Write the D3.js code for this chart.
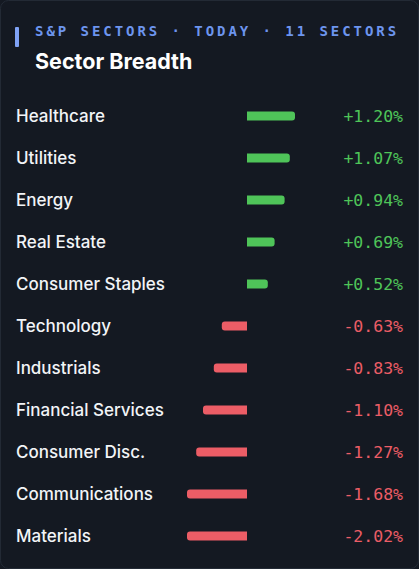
<!DOCTYPE html><html><head><meta charset="utf-8">
<script src="https://cdn.jsdelivr.net/npm/d3@7"></script>
<style>body{margin:0;background:#141922;}svg{display:block}</style></head><body>
<script>
const sectors=["Healthcare","Utilities","Energy","Real Estate","Consumer Staples","Technology","Industrials","Financial Services","Consumer Disc.","Communications","Materials"];
const changes=[1.20,1.07,0.94,0.69,0.52,-0.63,-0.83,-1.10,-1.27,-1.68,-2.02];
const W=419,H=569;
const svg=d3.select("body").append("svg").attr("width",W).attr("height",H);
svg.append("rect").attr("x",0.5).attr("y",0.5).attr("width",W-1).attr("height",H-1).attr("rx",8).attr("fill","#141922").attr("stroke","#232a35");
svg.append("rect").attr("x",15).attr("y",27).attr("width",4).attr("height",20).attr("rx",1).attr("fill","#7fa2f5");
svg.append("text").attr("x",35).attr("y",36).attr("font-family","DejaVu Sans Mono").attr("font-size",14).attr("font-weight","bold").attr("letter-spacing",2.95).attr("fill","#6d95ee").text("S&P SECTORS · TODAY · 11 SECTORS");
svg.append("text").attr("x",35).attr("y",69).attr("font-family","Inter").attr("font-size",21.5).attr("font-weight",700).attr("fill","#fff").text("Sector Breadth");
const y=d3.scaleBand().domain(sectors).range([95,557]).padding(0);
const x=d3.scaleLinear().domain([-1.5,1.5]).range([187,307]).clamp(true);
const g=svg.selectAll(".row").data(sectors).join("g").attr("transform",d=>`translate(0,${y(d)+y.bandwidth()/2})`);
g.append("text").attr("x",16).attr("dy","0.35em").attr("font-family","Inter").attr("font-size",17).attr("font-weight",500).attr("fill","#f2f4f7").text(d=>d);
const r=3,h=9;
g.append("path").attr("fill",(d,i)=>changes[i]>=0?"#4fc459":"#ec5d66").attr("d",(d,i)=>{
  const x0=x(0),x1=x(changes[i]);
  if(x1>=x0){return `M${x0},${-h/2}H${x1-r}Q${x1},${-h/2} ${x1},${-h/2+r}V${h/2-r}Q${x1},${h/2} ${x1-r},${h/2}H${x0}Z`;}
  return `M${x0},${-h/2}H${x1+r}Q${x1},${-h/2} ${x1},${-h/2+r}V${h/2-r}Q${x1},${h/2} ${x1+r},${h/2}H${x0}Z`;});
g.append("text").attr("x",403).attr("dy","0.35em").attr("text-anchor","end").attr("font-family","DejaVu Sans Mono").attr("font-size",16.5).attr("fill",(d,i)=>changes[i]>=0?"#4fc459":"#ec5d66").text((d,i)=>(changes[i]>=0?"+":"-")+Math.abs(changes[i]).toFixed(2)+"%");
</script></body></html>
